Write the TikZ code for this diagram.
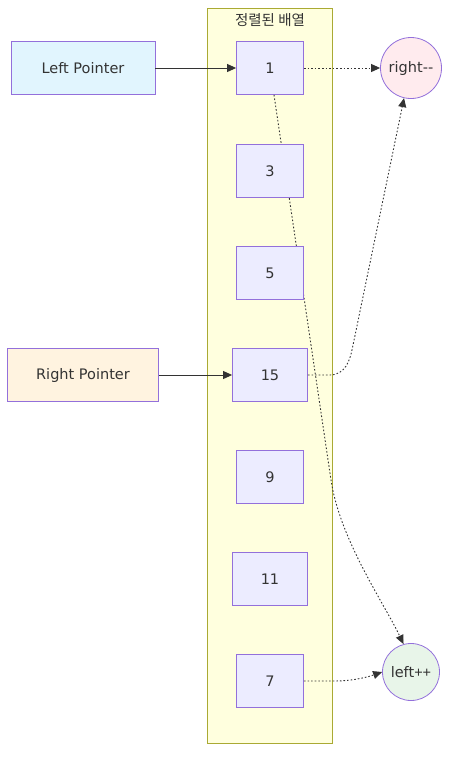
\documentclass[tikz,border=0pt]{standalone}
\usepackage{fontspec}
\setmainfont{DejaVu Sans}
\newfontfamily\krfont{Noto Sans CJK KR}
\newfontfamily\narrowfont{Liberation Sans}
\usetikzlibrary{arrows.meta}
\definecolor{nodefill}{HTML}{ECECFF}
\definecolor{nodestroke}{HTML}{9370DB}
\definecolor{clusterfill}{HTML}{FFFFDE}
\definecolor{clusterstroke}{HTML}{AAAA33}
\definecolor{txt}{HTML}{333333}
\definecolor{lpfill}{HTML}{E1F5FE}
\definecolor{rpfill}{HTML}{FFF3E0}
\definecolor{rmfill}{HTML}{FFEBEE}
\definecolor{lpfill2}{HTML}{E8F5E9}
\tikzset{
  every node/.style={text=txt, font=\fontsize{14.5}{17}\selectfont},
  cell/.style={draw=nodestroke, fill=nodefill, line width=0.8pt, minimum width=67pt, minimum height=53pt, inner sep=0pt},
  widecell/.style={cell, minimum width=75pt},
  ptr/.style={draw=nodestroke, line width=0.8pt, minimum height=53pt, inner sep=0pt},
  act/.style={circle, draw=nodestroke, line width=0.8pt, inner sep=0pt},
  solidedge/.style={draw=txt, line width=0.9pt, -{Triangle[length=9pt,width=8pt]}},
  dotedge/.style={draw=txt, line width=0.9pt, dash pattern=on 1.6pt off 2pt, -{Triangle[length=9pt,width=8pt]}},
}
\begin{document}
\begin{tikzpicture}[x=1pt,y=-1pt]
\useasboundingbox (0,0) rectangle (457,764);
% cluster
\node[draw=clusterstroke, fill=clusterfill, line width=0.8pt, minimum width=125pt, minimum height=735pt, inner sep=0pt] (cluster) at (269.5,375.5) {};
\node[font=\krfont\fontsize{14.5}{16}\selectfont] (title) at (270,20) {정렬된 배열};
% edges drawn below nodes
\coordinate (bend1) at (331,480);
\node[act, fill=lpfill2, minimum size=57pt] (lp) at (411,672) {left{\narrowfont ++}};
\node[act, fill=rmfill, minimum size=61pt] (rm) at (411,68) {right\mbox{-}\mbox{-}};
\node[cell] (n1) at (270,68) {1};
\draw[dotedge] ([xshift=4pt]n1.south) -- (bend1) .. controls (340,540) and (384,603) .. (lp.105);
\node[cell] (n3) at (270,171) {3};
\node[cell] (n5) at (270,273) {5};
\node[widecell] (n15) at (270,375) {15};
\node[cell] (n9) at (270,477) {9};
\node[widecell] (n11) at (270,579) {11};
\node[cell] (n7) at (270,681) {7};
\node[ptr, fill=lpfill, minimum width=144pt] (left) at (83,68) {Left Pointer};
\node[ptr, fill=rpfill, minimum width=151pt] (right) at (83,375) {Right Pointer};
\coordinate (c15a) at (330,375);
\coordinate (c15b) at (352,350);
\draw[solidedge] (left) -- (n1);
\draw[solidedge] (right) -- (n15);
\draw[dotedge] (n1) -- (rm);
\draw[dotedge] (n15.east) -- (c15a) .. controls (345,375) and (350,360) .. (c15b) -- (rm.-103);
\coordinate (c7) at (335,681);
\draw[dotedge] (n7.east) -- (c7) .. controls (350,681) and (365,678) .. (lp.west);
\end{tikzpicture}
\end{document}
